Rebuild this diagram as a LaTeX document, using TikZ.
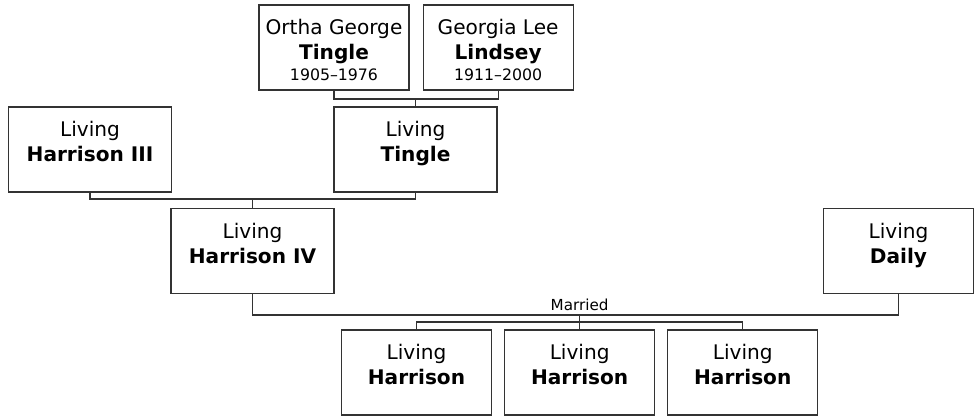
\documentclass[tikz,border=0pt]{standalone}
\usepackage{fontspec}
\setmainfont{DejaVu Sans}
\usetikzlibrary{positioning}

\newcommand{\namefont}{\fontsize{14.3}{17.7}\selectfont}
\newcommand{\yearfont}{\fontsize{11.2}{13.5}\selectfont}
\newcommand{\marriedfont}{\fontsize{10.8}{13}\selectfont}
\newcommand{\persontext}[3]{%
  \begin{minipage}[c][2.125cm][t]{3.75cm}\centering
  \rule{0pt}{21.3pt}#1\\ \textbf{#2}\\[-2.8pt]{\yearfont #3}
  \end{minipage}}

\begin{document}
\begin{tikzpicture}[
    box/.style={rectangle, draw=black!80, line width=0.8pt, inner sep=0pt, minimum width=3.75cm, minimum height=2.125cm, font=\namefont},
    wide/.style={box, minimum width=4.075cm},
    link/.style={draw=black!80, line width=0.8pt},
    married/.style={font=\marriedfont, inner sep=0pt}
]
\useasboundingbox (0,0) rectangle (24.375,-10.4);

% Grandparents
\node[box] (ortha) at (8.35,-1.1875) {\persontext{Ortha George}{Tingle}{1905--1976}};
\node[box, right=0.325cm of ortha] (georgia) {\persontext{Georgia Lee}{Lindsey}{1911--2000}};

% Parents
\node[wide] (harrison3) at (2.25,-3.7375) {\persontext{Living}{Harrison III}{}};
\node[wide] (tingle) at (10.3875,-3.7375) {\persontext{Living}{Tingle}{}};

% Couple
\node[wide] (harrison4) at (6.3125,-6.275) {\persontext{Living}{Harrison IV}{}};
\node[box] (daily) at (22.4625,-6.275) {\persontext{Living}{Daily}{}};

% Children
\node[box] (kid1) at (10.4125,-9.3125) {\persontext{Living}{Harrison}{}};
\node[box, right=0.3cm of kid1] (kid2) {\persontext{Living}{Harrison}{}};
\node[box, right=0.3cm of kid2] (kid3) {\persontext{Living}{Harrison}{}};

% Family lines
\coordinate (tinglejoin) at (tingle.north |- 0,-2.475);
\draw[link] (ortha.south) |- (tinglejoin) -| (georgia.south);
\draw[link] (tinglejoin) -- (tingle.north);

\coordinate (ivjoin) at (harrison4.north |- 0,-4.975);
\draw[link] (harrison3.south) |- (ivjoin) -| (tingle.south);
\draw[link] (ivjoin) -- (harrison4.north);

\coordinate (marriage) at (kid2.north |- 0,-7.875);
\draw[link] (harrison4.south) |- (marriage) -| (daily.south);
\node[married, anchor=base] (marriedlabel) at ([yshift=0.125cm]marriage) {Married};

\coordinate (kidsjoin) at (kid2.north |- 0,-8.05);
\draw[link] (kid1.north) |- (kidsjoin) -| (kid3.north);
\draw[link] (marriage) -- (kid2.north);

\end{tikzpicture}
\end{document}
